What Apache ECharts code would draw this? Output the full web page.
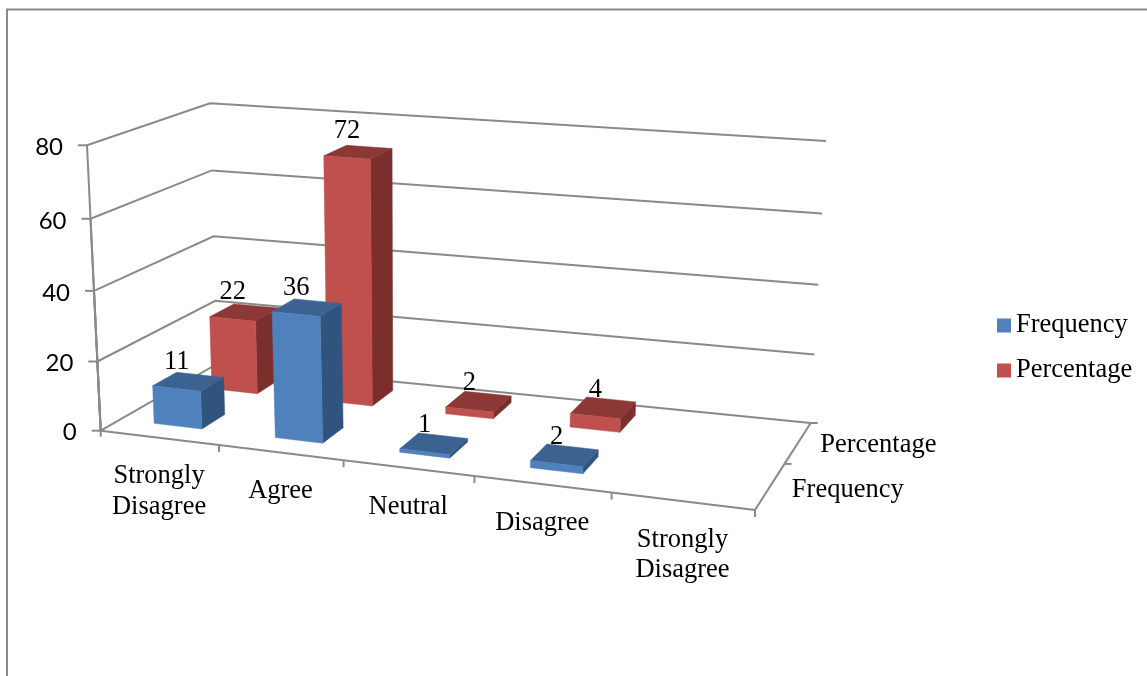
<!DOCTYPE html>
<html>
<head>
<meta charset="utf-8">
<style>html,body{margin:0;padding:0;background:#fff}#chart{width:1147px;height:676px}</style>
<script src="https://cdn.jsdelivr.net/npm/echarts@6/dist/echarts.min.js"></script>
</head>
<body>
<div id="chart"></div>
<script>
// Survey responses
const categories = ['Strongly\nDisagree', 'Agree', 'Neutral', 'Disagree', 'Strongly\nDisagree'];
const seriesNames = ['Frequency', 'Percentage'];
const frequency = [11, 36, 1, 2];
const percentage = [22, 72, 2, 4];
const valueTicks = [0, 20, 40, 60, 80];

// Oblique view of the plot box: floor corners and the rise of the 80 level at each corner
const floorFL = [100.7, 430.7], floorFR = [755, 510], floorBR = [810.7, 423], floorBL = [217, 364];
const riseFL = [-13.7, -285.4], riseFR = [8, -306], riseBR = [15.3, -282], riseBL = [-7, -260.7];
const GRID = '#8a8a8a';
const SERIF = '"Liberation Serif", "Times New Roman", serif';
const BAR_FRACTION = 0.41, DEPTH_HALF = 0.105;

const mix = (p, q, t) => [p[0] + (q[0] - p[0]) * t, p[1] + (q[1] - p[1]) * t];
const widen = u => u * (0.88 + 0.12 * u);            // foreshortening along the category edge
const deepen = w => 0.02 + 1.02 * w;                 // foreshortening along the depth edge

function project(a, d, h) {
  const ground = mix(mix(floorFL, floorFR, a), mix(floorBL, floorBR, a), d);
  const rise = mix(mix(riseFL, riseFR, a), mix(riseBL, riseBR, a), d);
  const t = h - 0.04 * h * (1 - h);
  return [ground[0] + rise[0] * t, ground[1] + rise[1] * t];
}

function normalised(params, api, cat, val) {
  const cs = params.coordSys, c = api.coord([cat, val]);
  return [(c[0] - cs.x) / cs.width, (cs.y + cs.height - c[1]) / cs.height];
}
const line = pts => ({
  type: 'polyline', shape: { points: pts },
  style: { stroke: GRID, lineWidth: 2, fill: null }
});
const label = (x, y, text, align, vAlign, font) => ({
  type: 'text', z2: 50,
  style: { x, y, text, align, verticalAlign: vAlign, font: font || ('26.5px ' + SERIF), lineHeight: 30.5, fill: '#000' }
});

// Side walls, value levels, value axis and value tick labels
function renderLevel(params, api) {
  const h = normalised(params, api, 0, api.value(0))[1];
  const fl = project(0, 0, h), bl = project(0, 1, h), br = project(1, 1, h);
  return { type: 'group', children: [
    line([fl, project(0, 0, 0)]),
    line([fl, bl, br]),
    line([[fl[0] - 9, fl[1]], fl]),
    label(fl[0] - 24, fl[1] + 2, String(api.value(0)), 'right', 'middle', '24px Lato')
  ] };
}

// Category edge, ticks and labels
function renderCategory(params, api) {
  const i = api.value(0), n = categories.length;
  const u = normalised(params, api, i, 0)[0];
  const p0 = project(widen(i / n), 0, 0), p1 = project(widen((i + 1) / n), 0, 0), mid = project(widen(u), 0, 0);
  const children = [
    line([p0, p1]),
    line([p1, [p1[0], p1[1] + 7]]),
    label(mid[0], mid[1] + 23.5, categories[i], 'center', 'top')
  ];
  if (i === 0) children.push(line([p0, [p0[0], p0[1] + 6]]));
  return { type: 'group', children };
}

// Depth edge with one label per series
function renderDepth(params, api) {
  const i = api.value(0), n = seriesNames.length;
  const p0 = project(1, i ? deepen(i / n) : 0, 0), p1 = project(1, i === n - 1 ? 1 : deepen((i + 1) / n), 0);
  const mid = project(1, deepen((i + 0.5) / n), 0);
  return { type: 'group', children: [
    line([p0, p1]),
    line([p1, [p1[0] + 7, p1[1]]]),
    label(mid[0] + 21.5, mid[1] + 3.5, seriesNames[i], 'left', 'middle')
  ] };
}

// One box per value, faces drawn back to front
function barRenderer(depthIndex, faces) {
  return function (params, api) {
    const i = api.value(0), v = api.value(1);
    const [uc, h] = normalised(params, api, i, v);
    const half = BAR_FRACTION / categories.length / 2;
    // bars keep a nearly constant width towards the near right corner
    const a0 = widen(uc - half) + 0.0045 * Math.min(1, Math.max(0, (uc - 0.1) / 0.2)), a1 = widen(uc + half);
    const dc = deepen((depthIndex + 0.5) / seriesNames.length);
    const d0 = dc - DEPTH_HALF, d1 = dc + DEPTH_HALF;
    const poly = (pts, fill) => ({ type: 'polygon', shape: { points: pts }, style: { fill, stroke: fill, lineWidth: 0.5 } });
    const frontTop = mix(project(a0, d0, h), project(a1, d0, h), 0.5);
    return { type: 'group', children: [
      poly([project(a1, d0, 0), project(a1, d1, 0), project(a1, d1, h), project(a1, d0, h)], faces.side),
      poly([project(a0, d0, h), project(a1, d0, h), project(a1, d1, h), project(a0, d1, h)], faces.top),
      poly([project(a0, d0, 0), project(a1, d0, 0), project(a1, d0, h), project(a0, d0, h)], faces.front),
      label(frontTop[0], frontTop[1] - 26.5, String(v), 'center', 'middle')
    ] };
  };
}

const chart = echarts.init(document.getElementById('chart'));
chart.setOption({
  animation: false,
  backgroundColor: '#ffffff',
  grid: { left: 0, right: 0, top: 0, bottom: 0 },
  xAxis: { type: 'category', data: categories, show: false },
  yAxis: { type: 'value', min: 0, max: 80, interval: 20, show: false },
  tooltip: { show: false },
  legend: {
    data: seriesNames, orient: 'vertical', left: 992, top: 307,
    itemWidth: 14, itemHeight: 14, itemGap: 18, icon: 'rect', selectedMode: false,
    textStyle: { fontFamily: SERIF, fontSize: 26.5, color: '#000' }
  },
  graphic: [{
    type: 'polyline', silent: true,
    shape: { points: [[7, 676], [7, 9.5], [1147, 9.5]] },
    style: { stroke: '#8a8a8a', lineWidth: 2, fill: null }
  }],
  series: [
    { type: 'custom', name: 'levels', silent: true, renderItem: renderLevel, clip: false,
      data: valueTicks.map(v => [v]), encode: { x: [], y: 0 } },
    { type: 'custom', name: 'categoryEdge', silent: true, renderItem: renderCategory, clip: false,
      data: categories.map((c, i) => [i]), encode: { x: 0, y: [] } },
    { type: 'custom', name: 'depthEdge', silent: true, renderItem: renderDepth, clip: false,
      data: seriesNames.map((s, i) => [i]), encode: { x: [], y: [] } },
    { type: 'custom', name: seriesNames[1], silent: true, clip: false, itemStyle: { color: '#C0504D' },
      renderItem: barRenderer(1, { front: '#C0504D', side: '#7B2F2D', top: '#8C3836' }),
      data: percentage.map((v, i) => [i, v]), encode: { x: 0, y: 1 } },
    { type: 'custom', name: seriesNames[0], silent: true, clip: false, itemStyle: { color: '#4F81BD' },
      renderItem: barRenderer(0, { front: '#4F81BD', side: '#31547E', top: '#3B6290' }),
      data: frequency.map((v, i) => [i, v]), encode: { x: 0, y: 1 } }
  ]
});
</script>
</body>
</html>
